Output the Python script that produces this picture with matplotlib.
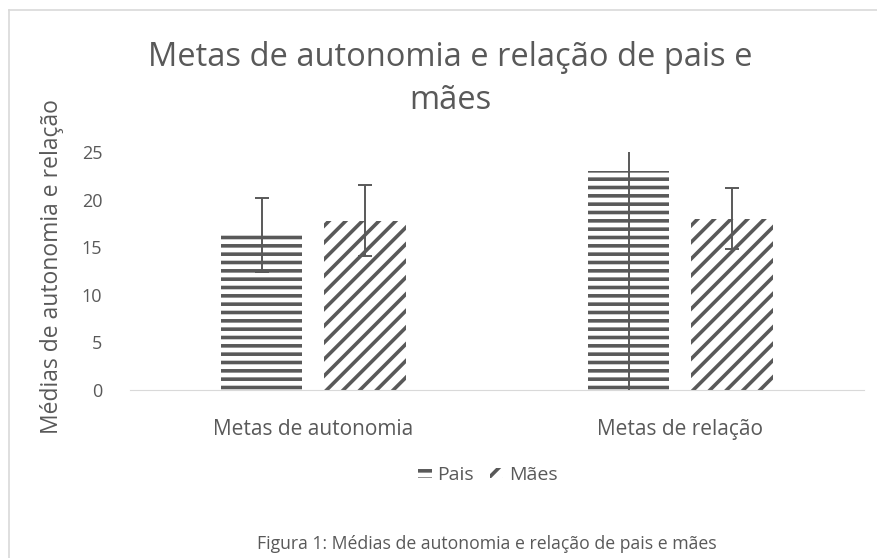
import matplotlib.pyplot as plt
from matplotlib.lines import Line2D
import numpy as np

plt.rcParams['font.family'] = ['Open Sans', 'DejaVu Sans']
plt.rcParams['hatch.linewidth'] = 2.6

categories = ['Metas de autonomia', 'Metas de relação']
series = ['Pais', 'Mães']
pais = [16.3, 23.0]
pais_err = [3.9, 24.0]
maes = [17.8, 18.0]
maes_err = [3.7, 3.2]
yticks = [0, 5, 10, 15, 20, 25]

grey = '#595959'
fig = plt.figure(figsize=(8.78, 5.58), dpi=100)
ax = fig.add_axes([0.148, 0.301, 0.836, 0.4265])

x = np.arange(len(categories))
w = 0.223
off = (w + 0.06) / 2
ax.bar(x - off, pais, w, color='white', edgecolor=grey, linewidth=0, hatch='--', label=series[0])
ax.bar(x + off, maes, w, color='white', edgecolor=grey, linewidth=0, hatch='//', label=series[1])
ax.errorbar(x - off, pais, yerr=pais_err, fmt='none', ecolor=grey, elinewidth=1.4, capsize=5, capthick=1.4)
ax.errorbar(x + off, maes, yerr=maes_err, fmt='none', ecolor=grey, elinewidth=1.4, capsize=5, capthick=1.4)

ax.set_xlim(-0.5, 1.5)
ax.set_ylim(0, 25)
ax.set_yticks(yticks)
ax.set_xticks(x)
ax.set_xticklabels(categories)
ax.tick_params(axis='y', length=0, pad=20, labelsize=13, labelcolor=grey)
ax.tick_params(axis='x', length=0, pad=21, labelsize=15, labelcolor=grey)
for s in ['top', 'right', 'left']:
    ax.spines[s].set_visible(False)
ax.spines['bottom'].set_color('#d9d9d9')
ax.set_ylabel('Médias de autonomia e relação', fontsize=16.5, color=grey)
ax.yaxis.set_label_coords(-0.09, 0.52)

fig.text(0.513, 1 - 79 / 558, 'Metas de autonomia e relação de pais e\nmães',
         ha='center', va='center', fontsize=23.5, color=grey, linespacing=1.42)

ax.legend(loc='center', bbox_to_anchor=(488 / 878, 1 - 475 / 558), bbox_transform=fig.transFigure,
          ncol=2, frameon=False, fontsize=14, labelcolor=grey, handlelength=0.7, handleheight=0.45,
          handletextpad=0.3, columnspacing=0.8)

fig.text(487 / 878, 1 - 544 / 558, 'Figura 1: Médias de autonomia e relação de pais e mães',
         ha='center', va='center', fontsize=12.7, color=grey)

fig.add_artist(Line2D([9 / 878, 9 / 878], [0, 1 - 10 / 558], color='#d9d9d9', lw=1.2))
fig.add_artist(Line2D([9 / 878, 1], [1 - 10 / 558, 1 - 10 / 558], color='#d9d9d9', lw=1.2))

fig.savefig('out.png', dpi=100)
